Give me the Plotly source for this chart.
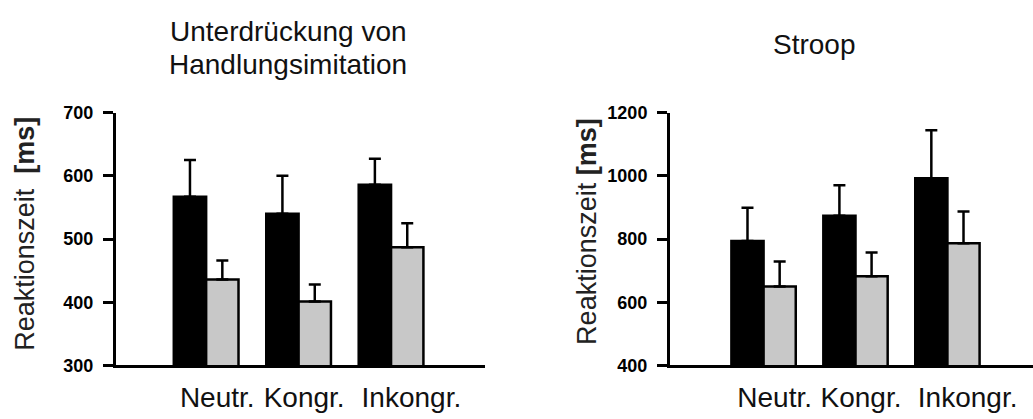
import plotly.graph_objects as go

W, H = 1033, 419

categories = ["Neutr.", "Kongr.", "Inkongr."]

# Panel 1: Unterdrückung von Handlungsimitation
imit_black = [567, 540, 586]
imit_black_err = [58, 60, 41]
imit_gray = [436, 401, 487]
imit_gray_err = [30, 27, 38]

# Panel 2: Stroop
stroop_black = [794, 874, 992]
stroop_black_err = [105, 96, 152]
stroop_gray = [650, 682, 787]
stroop_gray_err = [79, 75, 100]

imit_ticks = [300, 400, 500, 600, 700]
stroop_ticks = [400, 600, 800, 1000, 1200]

FONT = "Liberation Sans, Arial, sans-serif"


def px(x):
    return x / W


def py(y):
    return 1 - y / H


fig = go.Figure()

xpos = list(range(len(categories)))


def add_pair(black, black_err, gray, gray_err, xa, ya):
    for vals, errs, col in [(black, black_err, "black"), (gray, gray_err, "#c8c8c8")]:
        fig.add_trace(go.Bar(
            x=xpos, y=vals, xaxis=xa, yaxis=ya,
            marker=dict(color=col, line=dict(color="black", width=2.5)),
            error_y=dict(type="data", symmetric=False, array=errs,
                         arrayminus=[0] * len(errs), thickness=2.5, width=6,
                         color="black"),
            showlegend=False,
        ))


add_pair(imit_black, imit_black_err, imit_gray, imit_gray_err, "x", "y")
add_pair(stroop_black, stroop_black_err, stroop_gray, stroop_gray_err, "x2", "y2")

label_offsets = [0.12, 0.06, 0.22]
tickv = [i + o for i, o in zip(xpos, label_offsets)]

xaxis_common = dict(
    showline=True, linewidth=3, linecolor="black", showgrid=False,
    zeroline=False, tickmode="array", tickvals=tickv, ticktext=categories,
    ticks="", tickfont=dict(family=FONT, size=28, color="#111"),
    ticklabelstandoff=5,
)
yaxis_common = dict(
    showline=True, linewidth=3, linecolor="black", showgrid=False,
    zeroline=False, ticks="outside", ticklen=10, tickwidth=3,
    tickcolor="black", tickfont=dict(family=FONT, size=18, color="black", weight="bold"),
    ticklabelstandoff=6,
)

ydom = [py(373.3), py(107.7)]

fig.update_layout(
    autosize=True,
    margin=dict(l=0, r=0, t=0, b=0, pad=0),
    paper_bgcolor="white", plot_bgcolor="white",
    barmode="group", bargap=0.3, bargroupgap=0,
    xaxis=dict(domain=[px(116), px(485)], range=[-0.975, 3.016], anchor="y", **xaxis_common),
    yaxis=dict(domain=ydom, range=[300, 700], tickvals=imit_ticks, anchor="x", **yaxis_common),
    xaxis2=dict(domain=[px(670), 1.0], range=[-1.018, 2.931], anchor="y2", **xaxis_common),
    yaxis2=dict(domain=ydom, range=[400, 1200], tickvals=stroop_ticks, anchor="x2", **yaxis_common),
)

annots = [
    dict(text="Unterdrückung von", x=px(288), y=py(22.5), size=28),
    dict(text="Handlungsimitation", x=px(288), y=py(57), size=28),
    dict(text="Stroop", x=px(814), y=py(36), size=28),
]
for a in annots:
    fig.add_annotation(text=a["text"], x=a["x"], y=a["y"], xref="paper", yref="paper",
                       xanchor="center", yanchor="middle", showarrow=False,
                       font=dict(family=FONT, size=a["size"], color="#111"))

for xc, yc, txt in [(25, 235, "Reaktionszeit  <b>[ms]</b>"), (587, 233, "Reaktionszeit <b>[ms]</b>")]:
    fig.add_annotation(text=txt, x=px(xc), y=py(yc), xref="paper", yref="paper",
                       xanchor="center", yanchor="middle", textangle=-90, showarrow=False,
                       font=dict(family=FONT, size=27, color="#222"))

fig.write_html(
    "out.html",
    config={"displayModeBar": False, "responsive": True},
    default_width="100vw",
    default_height="100vh",
    post_script=(
        "var s=document.body.style;s.margin='0';s.padding='0';s.overflow='hidden';"
        "document.documentElement.style.overflow='hidden';"
        "Plotly.Plots.resize(document.getElementById('{plot_id}'));"
    ),
)
